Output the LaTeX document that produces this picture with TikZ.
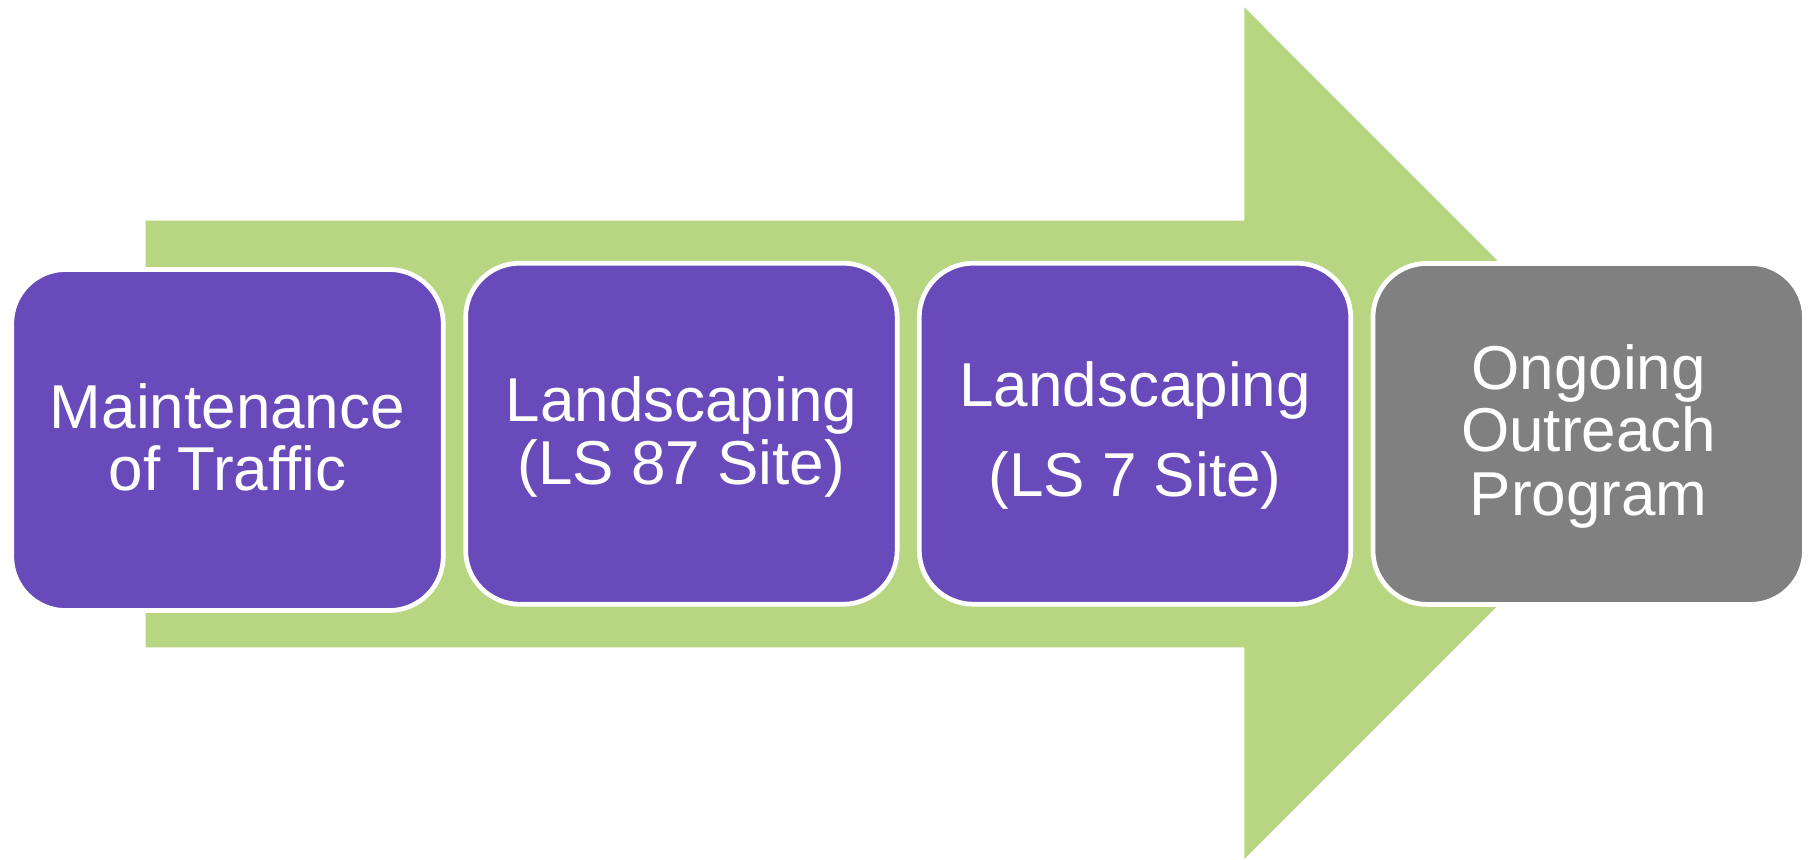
\documentclass[tikz,border=0pt]{standalone}
\usepackage{fontspec}
\setmainfont{Liberation Sans}
\definecolor{arrowgreen}{RGB}{184,213,130}
\definecolor{boxpurple}{RGB}{104,74,186}
\definecolor{boxgray}{RGB}{128,128,128}
\begin{document}
\begin{tikzpicture}[x=0.5pt,y=-0.5pt,
  stepbox/.style={rounded corners=27pt, draw=white, line width=2.35pt,
    minimum width=215.75pt, minimum height=170.5pt, inner sep=0pt, outer sep=0pt},
  purplebox/.style={stepbox, fill=boxpurple},
  graybox/.style={stepbox, fill=boxgray},
  txt/.style={anchor=base, text=white, font=\fontsize{31}{37}\selectfont, inner sep=0pt}]
\useasboundingbox (0,0) rectangle (1808,859);
% big arrow
\fill[arrowgreen] (145.7,220.7) -- (1244.3,220.7) -- (1244.3,7.3) -- (1670,433.2)
  -- (1244.3,859.1) -- (1244.3,647.3) -- (145.7,647.3) -- cycle;
% boxes
\node[purplebox] (b1) at (227.5,440) {};
\node[purplebox] (b2) at (681.4,433.7) {};
\node[purplebox] (b3) at (1135,433.7) {};
\node[graybox]   (b4) at (1588.7,433.9) {};
% texts
\node[txt] (t1a) at (227.5,428.3) {Maintenance};
\node[txt] (t1b) at (227.5,490.7) {of Traffic};
\node[txt] (t2a) at (681.4,421.7) {Landscaping};
\node[txt] (t2b) at (681.4,484.3) {(LS 87 Site)};
\node[txt] (t3a) at (1135,406.7) {Landscaping};
\node[txt] (t3b) at (1135,496.7) {(LS 7 Site)};
\node[txt] (t4a) at (1588.7,389.3) {Ongoing};
\node[txt] (t4b) at (1588.7,451.7) {Outreach};
\node[txt] (t4c) at (1588.7,515) {Program};
\end{tikzpicture}
\end{document}
